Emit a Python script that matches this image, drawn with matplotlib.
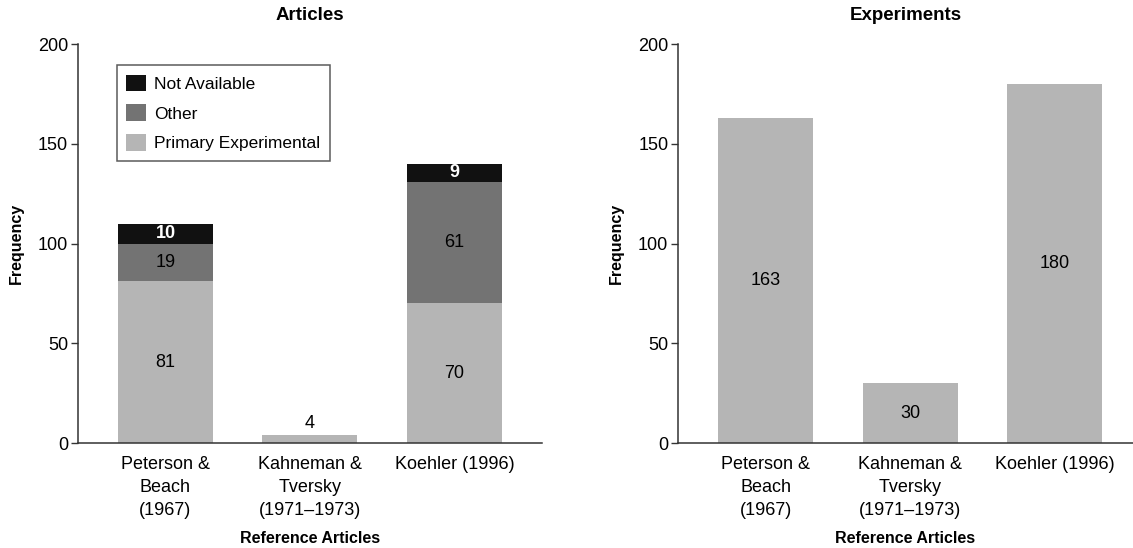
import matplotlib
matplotlib.use("Agg")
import matplotlib.pyplot as plt
import numpy as np

plt.rcParams["font.family"] = ["Liberation Sans Narrow", "DejaVu Sans Condensed", "Liberation Sans", "DejaVu Sans"]

refs = ["Peterson &\nBeach\n(1967)", "Kahneman &\nTversky\n(1971\u20131973)", "Koehler (1996)"]
primary = [81, 4, 70]
other = [19, 0, 61]
not_avail = [10, 0, 9]
experiments = [163, 30, 180]

C_PRIM, C_OTH, C_NA = "#b5b5b5", "#737373", "#111111"
FS = 13

fig = plt.figure(figsize=(11.33, 5.48), dpi=100)
axL = fig.add_axes([0.0688, 0.1916, 0.4095, 0.728])
axR = fig.add_axes([0.5984, 0.1916, 0.4016, 0.728])

x = np.arange(len(refs))
w = 0.657
p = np.array(primary); o = np.array(other); n = np.array(not_avail)
b1 = axL.bar(x, p, w, color=C_PRIM, label="Primary Experimental")
b2 = axL.bar(x, o, w, bottom=p, color=C_OTH, label="Other")
b3 = axL.bar(x, n, w, bottom=p + o, color=C_NA, label="Not Available")

for i in x:
    if o[i] == 0 and n[i] == 0:
        axL.text(i, p[i] + 1.5, str(p[i]), ha="center", va="bottom", fontsize=FS)
    else:
        axL.text(i, p[i] / 2, str(p[i]), ha="center", va="center", fontsize=FS)
    if o[i]:
        axL.text(i, p[i] + o[i] / 2, str(o[i]), ha="center", va="center", fontsize=FS)
    if n[i]:
        axL.text(i, p[i] + o[i] + n[i] / 2, str(n[i]), ha="center", va="center",
                 fontsize=FS, color="white", fontweight="bold")

axR.bar(x, experiments, w, color=C_PRIM)
for i, v in zip(x, experiments):
    axR.text(i, v / 2, str(v), ha="center", va="center", fontsize=FS)

for ax, title, xr in ((axL, "Articles", 2.606), (axR, "Experiments", 2.54)):
    ax.set_xlim(-0.606, xr)
    ax.set_ylim(0, 200)
    ax.set_yticks([0, 50, 100, 150, 200])
    ax.set_xticks(x)
    ax.set_xticklabels(refs, fontsize=FS, linespacing=1.45)
    ax.tick_params(axis="x", length=0, pad=9.5)
    ax.tick_params(axis="y", labelsize=FS, length=5, width=1, color="#333333", pad=2)
    for s in ("top", "right"):
        ax.spines[s].set_visible(False)
    for s in ("left", "bottom"):
        ax.spines[s].set_color("#333333")
        ax.spines[s].set_linewidth(1.1)
    ax.set_title(title, fontsize=13.5, fontweight="bold", pad=17)
    ax.set_ylabel("Frequency", fontsize=11.5, fontweight="bold", labelpad=10)
    ax.set_xlabel("Reference Articles", fontsize=11.5, fontweight="bold", labelpad=9)

leg = axL.legend(handles=[b3, b2, b1], loc="upper left", bbox_to_anchor=(0.084, 0.947),
                 fontsize=12.5, frameon=True, fancybox=False, edgecolor="#333333",
                 handlelength=1.15, handleheight=1.1, borderpad=0.55, labelspacing=0.72,
                 handletextpad=0.45, borderaxespad=0)
leg.get_frame().set_linewidth(1.1)

fig.savefig("out.png", dpi=100)
